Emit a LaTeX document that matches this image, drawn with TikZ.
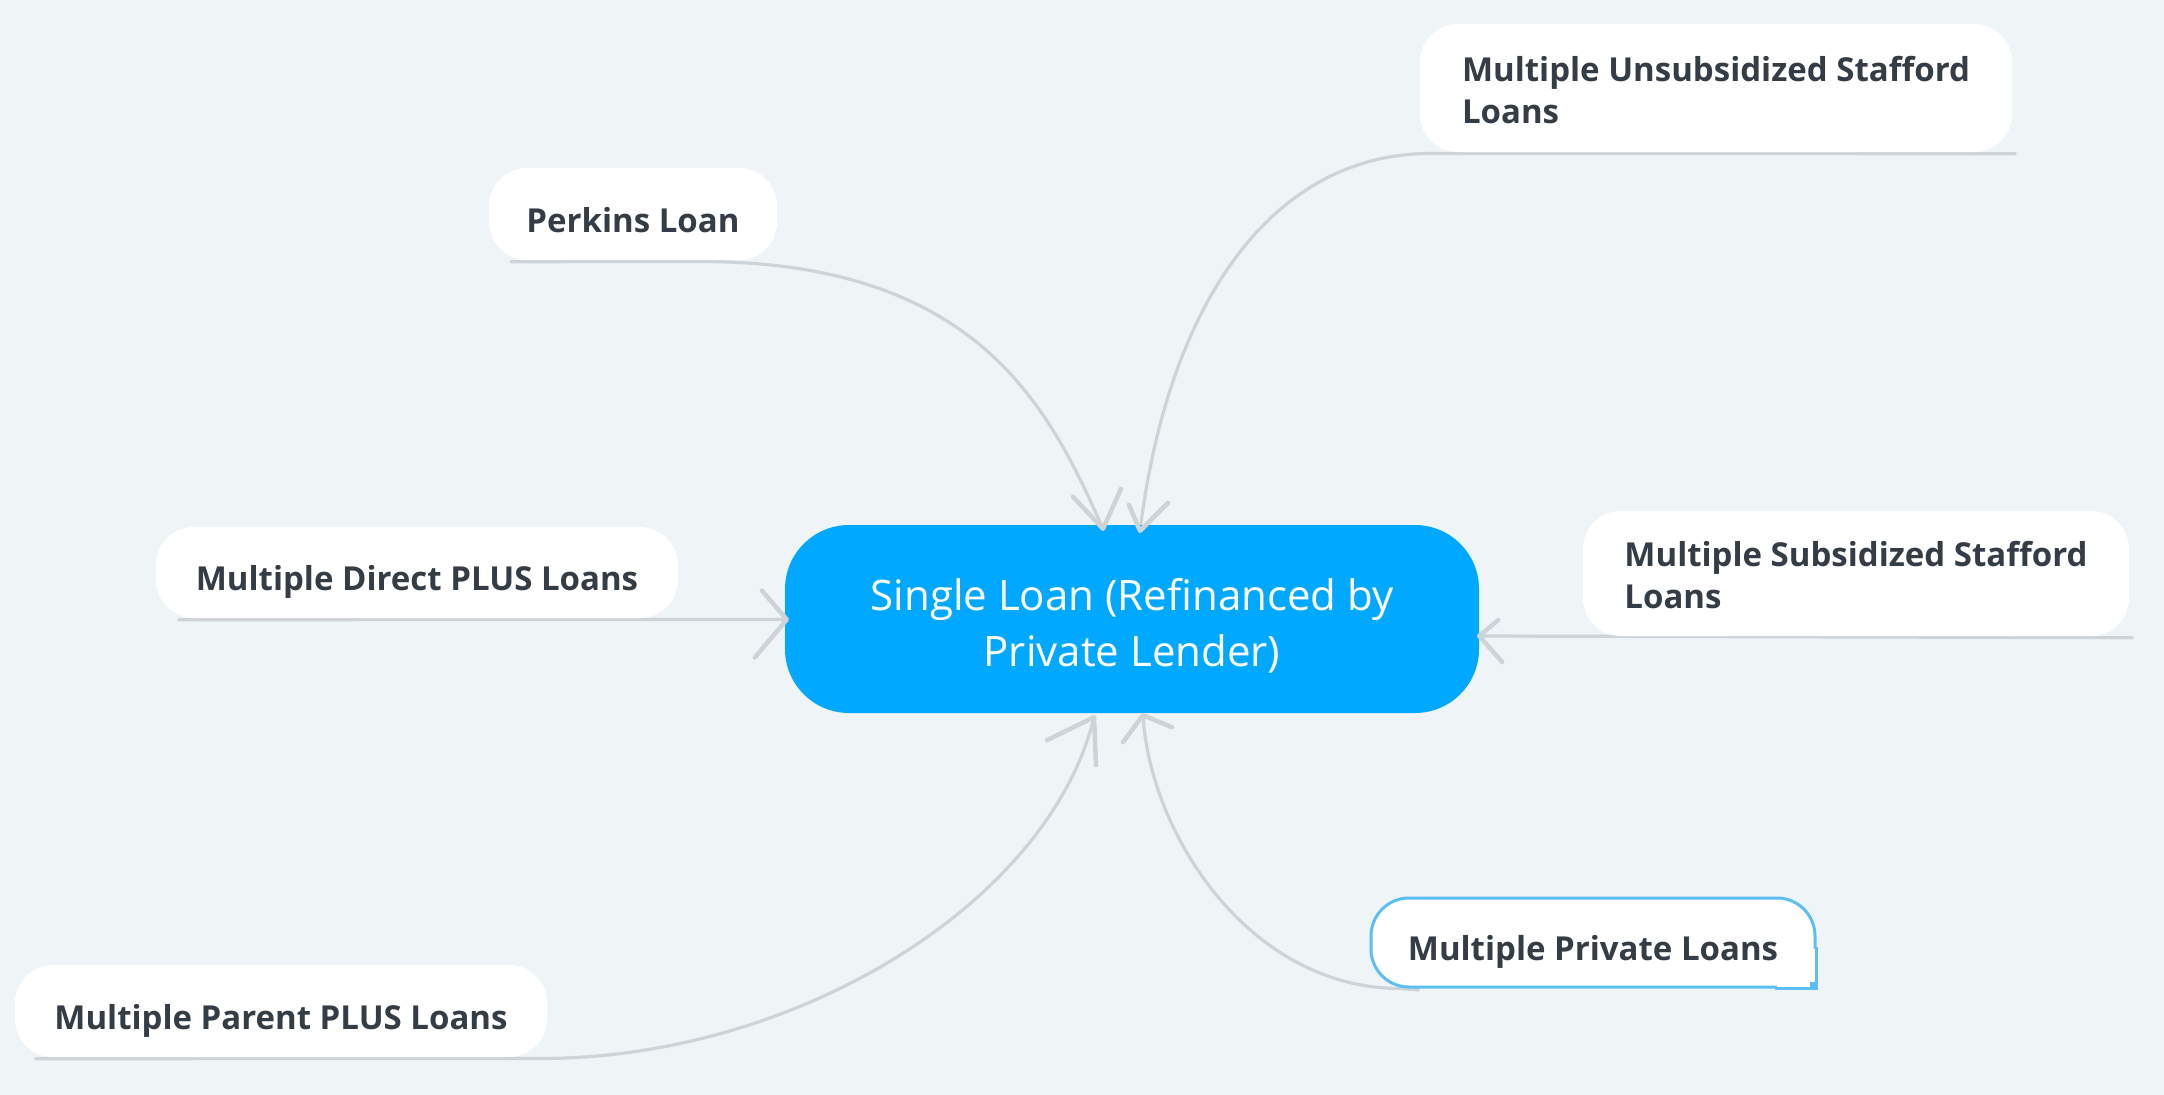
\documentclass[tikz,border=0pt]{standalone}
\usepackage{fontspec}
\setmainfont{Open Sans}
\usetikzlibrary{calc}
\definecolor{bgc}{HTML}{EFF4F7}
\definecolor{conn}{HTML}{CED3D7}
\definecolor{mainblue}{HTML}{00A9FF}
\definecolor{labeltext}{HTML}{343C46}
\definecolor{selblue}{HTML}{5CBEF5}
\pgfdeclarelayer{bgl}
\pgfdeclarelayer{back}
\pgfdeclarelayer{front}
\pgfsetlayers{bgl,back,main,front}
\begin{document}
\begin{tikzpicture}[x=1pt,y=-1pt,
  leaf/.style={fill=white, rounded corners=38pt, inner sep=0pt,
    font=\fontsize{33}{42}\selectfont\bfseries, text=labeltext, align=left},
  oneline/.style={text height=36pt, text depth=0pt},
  hub/.style={fill=mainblue, rounded corners=64pt, inner sep=0pt, text=white,
    font=\fontsize{42}{55.5}\selectfont, align=center},
  link/.style={draw=conn, line width=3.2pt, line cap=round},
  tipline/.style={draw=conn, line width=4.5pt, line cap=round, line join=round}]

\begin{pgfonlayer}{bgl}
  \fill[bgc] (0,0) rectangle (2164,1095);
\end{pgfonlayer}
\useasboundingbox (0,0) rectangle (2164,1095);

% hub
\node[hub, minimum width=694pt, minimum height=188pt] (hub) at (1132,619)
  {\rule{0pt}{46pt}Single Loan (Refinanced by\\Private Lender)};

% leaves
\node[leaf, oneline, minimum width=288pt, minimum height=92pt] (perk) at (633,214) {Perkins Loan};
\node[leaf, minimum width=592pt, minimum height=128pt] (unsub) at (1716,88) {\rule{0pt}{30pt}Multiple Unsubsidized Stafford\\Loans};
\node[leaf, oneline, minimum width=522pt, minimum height=91pt] (direct) at (417,572.5) {Multiple Direct PLUS Loans};
\node[leaf, minimum width=546pt, minimum height=125pt] (subs) at (1856,573.5) {\rule{0pt}{28pt}Multiple Subsidized Stafford\\Loans};
\node[leaf, oneline, minimum width=444pt, minimum height=89pt, draw=selblue, line width=3pt] (priv) at (1593,942.5) {Multiple Private Loans};
\node[leaf, oneline, minimum width=532pt, minimum height=92pt] (parent) at (281,1011) {Multiple Parent PLUS Loans};

% squared selected corner with handle
\fill[white] ($(priv.south east)+(-40,-40)$) rectangle ($(priv.south east)+(-1.5,-1.5)$);
\draw[selblue, line width=3pt] ($(priv.south east)+(0,-42)$) -- (priv.south east) -- ($(priv.south east)+(-42,0)$);
\fill[selblue] ($(priv.south east)+(-7,-7)$) rectangle ($(priv.south east)+(1.5,1.5)$);

% arrow tip coordinates
\coordinate (t1) at ($(hub.north)+(-29,4)$);
\coordinate (t2) at ($(hub.north)+(8,6)$);
\coordinate (tL) at ($(hub.west)+(2,0.5)$);
\coordinate (tR) at ($(hub.east)+(0,17)$);
\coordinate (tBL) at ($(hub.south)+(-38,4)$);
\coordinate (tBR) at ($(hub.south)+(11,2)$);

% connector start points
\coordinate (s1) at ($(perk.south west)+(22,1.5)$);
\coordinate (s2) at ($(unsub.south east)+(3,1.5)$);
\coordinate (s3) at ($(direct.south west)+(23,1.5)$);
\coordinate (s4) at ($(subs.south east)+(3,1.5)$);
\coordinate (s5) at ($(priv.south west)+(49,1.5)$);
\coordinate (s6) at ($(parent.south west)+(21,1.5)$);

\begin{pgfonlayer}{back}
  \draw[link] (s1) -- (700,261.5) .. controls (980,261.5) and (1050,410) .. (t1);
  \draw[link] (s2) -- (1430,153.5) .. controls (1280,153.5) and (1170,290) .. (t2);
  \draw[link] (s3) -- (tL);
  \draw[link] (s4) -- (tR);
  \draw[link] (s5) -- (1400,988.5) .. controls (1250,988.5) and (1150,835) .. (tBR);
  \draw[link] (s6) -- (540,1058.5) .. controls (800,1058.5) and (1050,900) .. (tBL);
\end{pgfonlayer}

\begin{pgfonlayer}{front}
  \draw[tipline] ($(t1)+(-30,-32)$) -- (t1) -- ($(t1)+(18,-40)$);
  \draw[tipline] ($(t2)+(-11,-26)$) -- (t2) -- ($(t2)+(28,-28)$);
  \draw[tipline] ($(tL)+(-25,-29)$) -- (tL) -- ($(tL)+(-32,38)$);
  \draw[tipline] ($(tR)+(19,-16)$) -- (tR) -- ($(tR)+(23,26)$);
  \draw[tipline] ($(tBR)+(-20,27)$) -- (tBR) -- ($(tBR)+(29,12)$);
  \draw[tipline] ($(tBL)+(-47,23)$) -- (tBL) -- ($(tBL)+(2,48)$);
\end{pgfonlayer}
\end{tikzpicture}
\end{document}
